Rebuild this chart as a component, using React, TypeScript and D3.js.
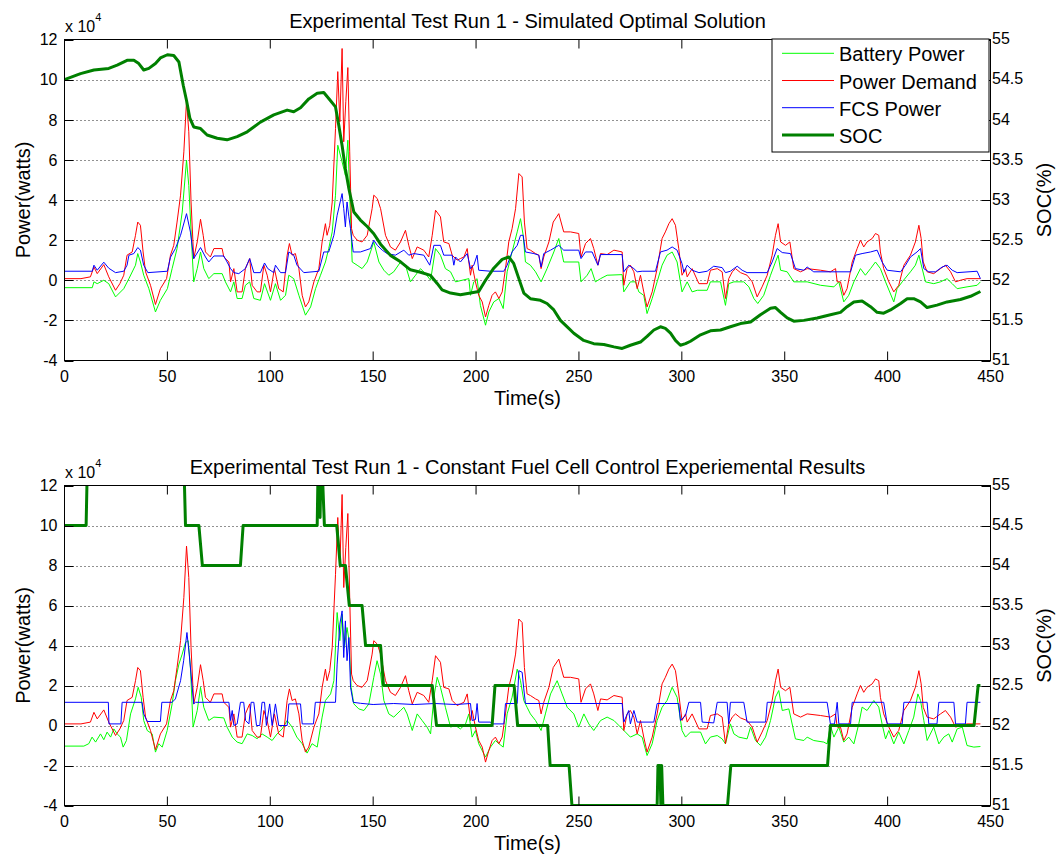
import React from 'react';
import * as d3 from 'd3';

type Pt = [number, number];

// Time in seconds, power in units of 10^4 W, state of charge in percent.
const powerDemand: Pt[] = [
  [0, 0.08], [8, 0.08], [12.6, 0.17], [14.3, 0.66], [15.9, 0.33], [19.1, 0.78], [21.5, 0.17], [24.8, -0.5],
  [26.9, -0.17], [28.8, 0.25], [30.4, 1.25], [32.9, 1.41], [34.5, 2.24], [35.6, 2.9], [36.9, 2.74], [38.2, 1.41],
  [39.4, 0.42], [41.8, -0.25], [44.2, -1.21], [46.6, -0.42], [49.6, 0.08], [51.5, 1.25], [53.1, 1.74], [54.7, 2.9],
  [56.4, 4.24], [58, 6.4], [59.3, 8.97], [60.4, 7.4], [61.5, 3.9], [62.8, 1.08], [64.5, 1.91], [66.1, 3.04],
  [67.4, 2.24], [68.5, 1.41], [70.9, 1.16], [72.6, 1.58], [76.6, 1.58], [77.4, 1.16], [79.9, 0.91], [80.7, -0.08],
  [82.3, 0.58], [83.9, -0.58], [86.3, -0.58], [87.9, 0.58], [90, 1.08], [91.2, -0.25], [93.6, -0.58], [95.2, -0.58],
  [96.9, 0.75], [98.5, 0.25], [100.1, -0.58], [102, 0.58], [104.1, -0.42], [106.3, -0.58], [108.2, 1.25], [109.3, 1.83],
  [110.6, 1.25], [112.2, 1.33], [113.9, 0.58], [115.5, -0.75], [117.1, -1.33], [118.7, -1.08], [121.2, -0.08], [123.6, 0.58],
  [125.2, 1.91], [126.8, 2.82], [127.6, 2.24], [128.9, 2.74], [130.1, 3.9], [131.7, 7.56], [132.8, 10.4], [133.8, 7.9],
  [134.9, 11.55], [135.7, 6.9], [136.7, 8.9], [137.7, 10.6], [138.6, 6.4], [139.5, 2.57], [140.3, 2.24], [142.2, 2.0],
  [144.6, 1.91], [147.1, 2.24], [149.5, 3.57], [150.3, 4.24], [152, 4.07], [153.6, 3.57], [156, 2.24], [158.4, 1.66],
  [160.8, 1.5], [163.3, 1.91], [165.7, 2.49], [167.3, 1.74], [169, 1.08], [171.4, 1.66], [174.6, 1.5], [177, 1.16],
  [178.7, 2.24], [180.3, 3.49], [182.7, 3.16], [184.3, 1.91], [186.8, 1.83], [188.4, 1.25], [190.8, 1.0], [192.4, 1.08],
  [194.1, 1.16], [195.7, 1.58], [197.3, 0.25], [198.1, 0.75], [199.7, -0.08], [201.3, -0.75], [203, -1.08], [204.6, -1.83],
  [206.2, -1.25], [207.8, -0.75], [209.4, -0.58], [211.1, -0.91], [212.7, -0.58], [214.3, 0.58], [215.9, 1.91], [217.5, 2.57],
  [219.2, 3.57], [220.8, 5.32], [222.4, 5.15], [223.5, 2.9], [224.8, 1.58], [226.4, 1.5], [228.9, 1.33], [230.5, 1.25],
  [231.6, 0.58], [232.9, 1.16], [235.4, 1.91], [237.5, 2.9], [240.2, 3.32], [242.6, 2.41], [245.9, 2.41], [249.9, 2.33],
  [251, 1.16], [253.2, 1.83], [255.6, 2.08], [257.2, 1.58], [259.2, 0.75], [260.5, 1.33], [263.7, 1.28], [267, 1.5],
  [271, 1.41], [271.8, -0.25], [273.4, 0.58], [275, 0.75], [276.7, 0.42], [278.3, -0.42], [279.9, 0.25], [281.5, -0.58],
  [283.1, -1.33], [285.6, -0.58], [288, 0.58], [290.4, 2.08], [292, 2.41], [293.7, 2.82], [295.3, 3.07], [296.9, 2.74],
  [298.5, 1.58], [300.1, 0.25], [301.8, 0.58], [302.6, 0.17], [305, 0.58], [308.3, -0.17], [312.3, -0.17], [313.9, 0.5],
  [317.2, 0.58], [319.6, 0.42], [321.2, -0.91], [322.8, 0.08], [324.5, 0.42], [326.1, 0.58], [328.5, 0.38], [331.7, 0.25],
  [334.2, -0.08], [336.6, -0.83], [339, -0.33], [341.5, 0.25], [343.9, 1.25], [345.5, 2.24], [346.8, 2.82], [348, 1.91],
  [350.4, 1.74], [352.5, 1.91], [354.4, 0.58], [357.7, 0.42], [360.9, 0.58], [367.4, 0.5], [372.2, 0.42], [374.7, 0.58],
  [375.5, -0.08], [377.1, -0.08], [378.7, -0.75], [380.3, -0.42], [382.8, 0.91], [385.2, 1.58], [386.8, 2.0], [388.4, 1.66],
  [390, 1.91], [392.5, 2.08], [394.1, 2.33], [395.7, 2.24], [396.5, 1.41], [398.1, 0.58], [400.6, -0.08], [403, -0.58],
  [405.4, -0.25], [407.9, 0.75], [411.1, 1.25], [413.5, 1.91], [415.2, 2.74], [416.3, 2.08], [417.3, 0.91], [419.2, 0.42],
  [422.4, 0.33], [425.7, 0.58], [428.1, 0.75], [430.6, 0.42], [433, -0.08], [435.4, 0], [438.6, 0.08], [445.1, 0.08],
];

const fcsPowerOptimal: Pt[] = [
  [0, 0.45], [13.5, 0.45], [14.3, 0.75], [15.9, 0.5], [19.1, 0.9], [21.5, 0.6], [24.8, 0.38], [28.8, 0.45],
  [30.4, 0.75], [31.3, 1.25], [33.7, 1.33], [35.6, 1.63], [36.9, 1.5], [38.5, 0.75], [40.5, 0.38], [50, 0.45],
  [51.5, 1.15], [53.9, 1.58], [56.4, 2.24], [59.3, 3.32], [61.2, 2.4], [62.8, 1.08], [66.1, 1.63], [68.5, 1.16],
  [70.1, 0.91], [72.6, 1.21], [77.4, 1.21], [79, 0.91], [80.7, 0.58], [82.3, 0.38], [84.7, 0.33], [87.9, 0.58],
  [90, 1.08], [92, 0.38], [95.2, 0.38], [97.2, 0.86], [98.8, 0.58], [101.7, 0.38], [102.5, 0.75], [105, 0.38],
  [107.4, 0.38], [109, 1.41], [111.4, 1.25], [113, 0.75], [116.3, 0.38], [123.6, 0.45], [126, 1.41], [128.4, 1.41],
  [130.9, 2.24], [132.5, 3.24], [134.9, 4.32], [135.7, 3.57], [136.5, 2.66], [137.3, 3.9], [138.2, 3.16], [139, 2.57],
  [140.3, 1.41], [143.8, 1.41], [148.7, 1.58], [150.3, 2.0], [152, 1.74], [154.4, 1.5], [156.8, 1.33], [160.8, 1.25],
  [164.9, 1.5], [167.3, 1.25], [169.8, 1.33], [174.6, 1.25], [177.5, 0.75], [179.5, 1.74], [182.7, 1.74], [184.3, 1.25],
  [188.4, 1.25], [189.2, 0.75], [190, 1.16], [192.4, 0.91], [195.7, 1.33], [197.3, 0.58], [198.9, 0.75], [200.5, 1.25],
  [201.3, 0.5], [207, 0.45], [213.5, 0.45], [215.1, 0.75], [217.5, 1.41], [220, 1.74], [221.6, 2.24], [222.9, 2.24],
  [224, 1.41], [228.1, 1.33], [230.5, 1.25], [231.6, 0.66], [232.9, 1.33], [236.2, 1.5], [240.2, 1.74], [242.6, 1.5],
  [249.9, 1.5], [251, 1.08], [253.2, 1.41], [256.4, 1.41], [259.2, 0.75], [260.5, 1.28], [271, 1.28], [271.8, 0.42],
  [274.2, 0.75], [276.7, 0.58], [278.3, 0.42], [280.7, 0.45], [287.2, 0.45], [289.6, 1.41], [292.8, 1.5], [295.3, 1.66],
  [297.7, 1.5], [300.1, 0.83], [301, 0.4], [302.6, 0.75], [305, 0.5], [308.3, 0.38], [312.3, 0.45], [315.5, 0.7],
  [319.6, 0.63], [321.2, 0.38], [323.6, 0.45], [326.9, 0.7], [329.3, 0.5], [331.7, 0.38], [341.5, 0.38], [343.9, 0.91],
  [346.3, 1.58], [348.8, 1.38], [352.8, 1.33], [355.2, 0.58], [359.3, 0.5], [360.9, 0.66], [364.1, 0.42], [382, 0.42],
  [384.4, 1.25], [387.6, 1.33], [391.7, 1.41], [394.9, 1.5], [397.3, 0.91], [399.8, 0.5], [406.3, 0.42], [408.7, 0.75],
  [411.1, 1.16], [414.3, 1.41], [416, 1.58], [417.6, 0.58], [420, 0.42], [423.3, 0.42], [426.5, 0.66], [428.9, 0.75],
  [431.4, 0.5], [433.8, 0.38], [443.5, 0.45], [445.1, 0.08],
];

const batteryPowerOptimal: Pt[] = [
  [0, -0.37], [13.5, -0.37], [14.3, -0.08], [15.9, -0.17], [19.1, 0], [21.5, -0.17], [24.8, -0.83], [28.8, -0.42],
  [31.3, 0.08], [34.5, 0.75], [35.6, 1.33], [36.9, 0.91], [38.5, 0.25], [41, -0.42], [44.2, -1.58], [46.6, -1.0],
  [50, -0.42], [52.3, 0.58], [54.7, 1.58], [57.2, 3.4], [59.3, 5.98], [60.4, 4.73], [62, 1.41], [62.8, -0.08],
  [64.5, 0.58], [66.1, 1.41], [67.7, 0.58], [70.1, 0.08], [72.6, 0.33], [76.6, 0.33], [78.2, -0.08], [80.7, -0.58],
  [82.3, -0.08], [83.9, -0.91], [86.3, -0.91], [87.9, -0.25], [90, -0.08], [92, -0.91], [95.2, -1.0], [97.2, -0.17],
  [100.1, -1.0], [102.5, -0.17], [105, -1.0], [107.4, -0.75], [109, 0.25], [111.4, 0.08], [113.9, -0.75], [117.1, -1.74],
  [119.6, -1.33], [122, -0.42], [124.4, 0.25], [126.8, 0.91], [128.4, 1.58], [130.1, 2.41], [131.7, 4.24], [132.8, 6.73],
  [134.9, 5.9], [136.5, 5.23], [137.7, 6.98], [138.6, 4.24], [139.8, 0.91], [142.2, 0.75], [144.6, 0.58], [147.1, 0.91],
  [148.7, 1.41], [150.3, 1.91], [152.8, 0.91], [155.2, 0.5], [157.6, 0.25], [160, 0.42], [163.3, 0.91], [165.7, 0.75],
  [168.1, -0.08], [170.6, 0.25], [173, 0.58], [175.4, 0.33], [177.9, 0], [180.3, 1.58], [182.7, 1.25], [185.1, 0.58],
  [187.6, 0.42], [190, -0.08], [193.2, 0], [196.5, 0.08], [197.3, -0.75], [198.9, -0.08], [200.5, 0.08], [202.1, -1.25],
  [204.6, -2.24], [206.2, -1.58], [208.6, -1.08], [211.1, -0.91], [213.2, -1.41], [215.1, 0.42], [217.5, 1.41], [220, 2.41],
  [221.6, 3.07], [222.9, 2.24], [224, 0.91], [226.4, 0.75], [228.9, 0.42], [231.6, -0.08], [234.5, 0.58], [237.8, 1.41],
  [240.2, 2.08], [242.6, 0.91], [249.9, 0.91], [251, -0.08], [254, 0.25], [255.9, 0.58], [258, -0.08], [260.5, 0.08],
  [263.7, 0.25], [271, 0.28], [271.8, -0.58], [275, -0.08], [277.5, -0.08], [279.1, -0.58], [281.5, -0.75], [283.1, -1.66],
  [285.6, -0.91], [288, -0.08], [290.4, 0.75], [292.8, 1.25], [295.3, 1.41], [297.7, 0.91], [300.1, -0.58], [302.6, -0.08],
  [305, -0.58], [307.5, -0.5], [312.3, -0.5], [313.9, -0.08], [318.8, -0.08], [321.2, -1.25], [322.8, -0.17], [325.3, -0.08],
  [330.1, -0.08], [332.6, -0.33], [335, -0.91], [336.9, -1.16], [339.8, -0.75], [343.1, 0.25], [345.5, 0.91], [346.8, 1.25],
  [348, 0.5], [351.2, 0.42], [354.4, -0.08], [360.9, -0.08], [367.4, -0.25], [373.9, -0.33], [376.3, -0.08], [378.7, -1.08],
  [381.1, -0.75], [383.6, -0.08], [386.8, 0.58], [389.2, 0.25], [391.7, 0.58], [394.1, 0.91], [396.5, 0.58], [399, -0.08],
  [403, -1.08], [404.6, -0.42], [407.1, -0.08], [411.1, 0.42], [413.5, 0.75], [415.2, 1.25], [416.8, 0.58], [418.4, -0.08],
  [422.4, -0.17], [425.7, -0.08], [428.9, 0.08], [431.4, -0.17], [433.8, -0.42], [438.6, -0.33], [443.5, -0.25], [445.1, -0.08],
];

const socOptimal: Pt[] = [
  [0, 54.5], [7.8, 54.575], [14.3, 54.62], [21.5, 54.64], [25.6, 54.68], [30.4, 54.74], [33.7, 54.74], [36.1, 54.7],
  [38.5, 54.62], [41, 54.64], [44.2, 54.7], [46.6, 54.77], [50, 54.81], [53.1, 54.8], [55.6, 54.72], [57.7, 54.43],
  [59.3, 54.24], [60.9, 54.02], [62.8, 53.91], [66.1, 53.89], [69.3, 53.81], [74.2, 53.77], [79, 53.75], [83.9, 53.79],
  [88.8, 53.85], [95.2, 53.97], [101.7, 54.06], [108.2, 54.12], [111.4, 54.1], [114.7, 54.15], [118.7, 54.26], [122.8, 54.33],
  [126, 54.34], [129.2, 54.24], [131.7, 54.16], [133.3, 53.93], [134.9, 53.68], [136.5, 53.39], [138.2, 53.14], [140.6, 52.85],
  [143.8, 52.75], [147.1, 52.67], [150.3, 52.58], [153.6, 52.45], [158.4, 52.31], [163.3, 52.23], [168.1, 52.13], [173, 52.1],
  [177.9, 52.06], [181.1, 51.96], [183.5, 51.88], [187.6, 51.84], [192.4, 51.82], [197.3, 51.84], [201.3, 51.86], [204.6, 52.0],
  [208.6, 52.15], [212.7, 52.26], [215.9, 52.29], [218.3, 52.21], [220.8, 52.02], [223.2, 51.84], [226.4, 51.77], [231.3, 51.75],
  [234.5, 51.71], [237.8, 51.63], [241, 51.5], [244.3, 51.42], [247.5, 51.34], [252.3, 51.25], [257.2, 51.21], [262.1, 51.2],
  [267, 51.17], [271, 51.15], [275, 51.19], [279.9, 51.23], [283.1, 51.3], [286.4, 51.38], [289.6, 51.42], [292, 51.4],
  [294.5, 51.34], [296.9, 51.25], [299.3, 51.19], [301.8, 51.21], [304.2, 51.24], [309.1, 51.32], [313.9, 51.37], [318.8, 51.38],
  [323.6, 51.42], [328.5, 51.46], [333.4, 51.48], [338.2, 51.57], [343.1, 51.65], [345.5, 51.66], [348, 51.6], [351.2, 51.53],
  [354.4, 51.49], [359.3, 51.5], [365.8, 51.53], [372.2, 51.57], [377.1, 51.6], [380.3, 51.67], [383.6, 51.73], [387.6, 51.74],
  [391.7, 51.67], [394.9, 51.6], [398.1, 51.59], [401.4, 51.63], [406.3, 51.71], [409.5, 51.77], [412.7, 51.77], [416, 51.73],
  [419.2, 51.66], [424, 51.69], [428.9, 51.73], [435.4, 51.76], [440.3, 51.8], [445.1, 51.86],
];

const fcsPowerConstant: Pt[] = [
  [0, 1.16], [21.3, 1.16], [21.6, 0.08], [27.4, 0.08], [28, 1.16], [37.7, 1.16], [38.5, 0.58], [40.2, 0.2],
  [46.6, 0.2], [47.3, 1.16], [52.3, 1.16], [53.9, 1.33], [56.4, 2.24], [57.9, 3.24], [59.5, 4.65], [60.6, 3.57],
  [61.9, 2.08], [62.8, 1.08], [63.6, 1.16], [79.9, 1.16], [80.7, 0.25], [81.5, 0.75], [82.3, 0], [83.9, 0.08],
  [85.5, 1.16], [87.1, 1.16], [88, 0.25], [89.6, 0.08], [90.7, 1.16], [92, 1.16], [93.3, 0], [94.9, 0],
  [96, 1.16], [97.2, 1.16], [98.1, 0], [99.7, 1.08], [100.9, 0], [102.5, 1.08], [104.1, 0], [108.2, 0],
  [109, 1.08], [114.7, 1.08], [115.5, 0.08], [121, 0.08], [121.9, 1.16], [131.7, 1.16], [132.5, 3.07], [133.8, 5.07],
  [134.9, 5.73], [135.7, 3.4], [136.5, 5.23], [137.3, 3.24], [138.2, 4.4], [139, 1.91], [140.3, 1.16], [143.8, 1.11],
  [150, 1.05], [160, 1.1], [170, 1.05], [180, 1.1], [190, 1.05], [197.3, 1.1], [198.1, 0.25], [199.7, 0.3],
  [200.5, 1.1], [201.3, 0.17], [207, 0.17], [207.8, 0.08], [213.5, 0.08], [214.3, 1.1], [220, 1.1], [220.8, 2.74],
  [222.4, 2.66], [223.2, 1.83], [224, 1.1], [271, 1.1], [271.8, 0.17], [274.2, 0.75], [275, 0.08], [276.7, 0.75],
  [278.3, 0.17], [286.4, 0.17], [288, 1.1], [298.5, 1.1], [299.3, 0.25], [301.8, 0.5], [303.4, 1.16], [309.1, 1.16],
  [309.9, 0.17], [315.5, 0.13], [317.2, 1.16], [322, 1.16], [322.8, 0.08], [323.6, 1.16], [330.1, 1.16], [331.7, 0.17],
  [340.7, 0.17], [341.5, 1.16], [370.6, 1.16], [372.2, 0.08], [374.2, 0.08], [375.5, 1.16], [376.3, 0.08], [382, 0.08],
  [382.8, 1.16], [398.1, 1.16], [399.8, 0.08], [407.1, 0.08], [407.9, 1.16], [419.2, 1.16], [420, 0.08], [424, 0.08],
  [424.9, 1.16], [432.2, 1.16], [433, 0.08], [437.8, 0.08], [438.6, 1.16], [445.1, 1.16],
];

const batteryPowerConstant: Pt[] = [
  [0, -1.03], [9.4, -1.03], [11.8, -0.91], [13.4, -0.58], [15.1, -0.83], [17.5, -0.42], [19.1, -0.71], [20.7, -0.33],
  [22.4, -0.58], [24, -0.17], [25.6, -0.42], [27.2, -0.58], [28.5, -1.08], [30.1, -0.75], [32.1, 0.58], [34.5, 1.33],
  [35.8, 1.91], [37.3, 1.41], [38.5, 0.25], [40.2, -0.25], [42.6, -0.42], [44.2, -1.33], [45.8, -0.91], [47.5, -1.08],
  [49.9, -0.25], [52.3, 1.08], [53.9, 2.24], [55.6, 3.07], [57.2, 3.57], [58.8, 4.15], [60.1, 4.24], [61.2, 2.9],
  [62.5, -0.08], [64.5, 0.75], [66.1, 1.91], [67.7, 0.91], [70.1, 0.25], [72.6, 0.42], [77.4, 0.38], [79, -0.08],
  [81.5, -0.58], [83.9, -0.83], [86.3, -0.91], [88.8, -0.42], [91.2, -0.5], [93.6, -0.66], [96, -0.42], [98.5, -0.58],
  [100.9, -0.75], [103.3, -0.42], [105.8, -0.17], [108.2, 0.25], [110.6, -0.08], [112.9, -0.58], [115.5, -0.91], [117.9, -1.38],
  [120.3, -0.91], [122.8, -1.08], [125.2, 0.42], [126.8, 1.25], [129.3, 1.58], [130.9, 2.24], [132.5, 5.65], [133.8, 4.24],
  [134.9, 5.56], [136, 3.9], [137.3, 4.9], [138.3, 4.24], [139.3, 1.91], [140.6, 1.08], [143, 0.83], [145.5, 0.75],
  [147.9, 1.08], [150.3, 2.41], [151.9, 3.24], [153.6, 2.57], [155.2, 1.25], [157.6, 0.58], [160, 0.42], [163.3, 0.75],
  [164.9, 0.91], [166.5, 0.58], [169, -0.25], [171.4, 0.58], [173.8, 0.25], [176.2, -0.08], [177.9, -0.42], [179.5, 1.41],
  [181.1, 2.41], [182.7, 1.91], [185.1, 0.91], [187.6, -0.08], [190, 0], [192.4, -0.17], [194.9, 0.08], [196.5, 0.58],
  [198.1, -0.58], [199.7, -0.25], [201.3, -0.91], [204.6, -1.58], [207, -1.08], [209.4, -0.75], [211.1, -0.91], [213.2, -1.08],
  [215.1, 0.58], [217.5, 1.41], [220, 2.82], [221.6, 2.24], [223.2, 1.25], [224.8, 0.91], [226.4, 0.58], [228.9, 0.25],
  [231.6, -0.25], [233.7, 0.58], [236.2, 1.58], [239.4, 2.24], [241.8, 1.58], [244.3, 0.91], [247.5, 0.58], [249.9, -0.08],
  [252.4, 0.58], [254.8, 0.08], [257.2, -0.25], [260.5, 0.25], [263.7, 0.42], [267, 0.25], [270.2, -0.08], [272.6, -0.33],
  [275, -0.58], [278.3, -0.42], [280.7, -0.58], [283.1, -1.5], [285.6, -0.91], [288, 0.25], [290.4, 0.91], [292.8, 1.25],
  [295.3, 1.91], [297.7, 1.41], [300.1, -0.25], [301.8, -0.58], [304.2, -0.33], [309.1, -0.33], [311.5, -0.92], [313.9, -0.58],
  [317.2, -0.5], [319.6, -0.67], [321.2, -0.92], [323.6, 0.08], [325.3, -0.42], [327.7, -0.58], [331.7, -0.67], [333.4, -0.08],
  [335.8, -0.75], [338.2, -1.0], [340.7, -0.58], [343.1, 0.25], [345.5, 1.42], [347.1, 1.75], [348.8, 0.75], [352, 0.83],
  [355.2, -0.67], [359.3, -0.75], [360.9, -0.58], [364.1, -0.75], [369, -0.83], [370.6, -0.92], [372.2, 0], [373.9, -0.58],
  [376.3, -0.08], [378.7, -0.83], [381.1, -0.58], [383.6, -0.92], [386, 0.08], [387.6, 0.92], [390, 0.75], [393.3, 1.25],
  [395.7, 0.92], [397.3, 0.08], [399, -0.67], [400.6, -0.25], [403, -0.92], [405.4, -0.33], [407.9, -0.92], [410.3, -0.25],
  [412.7, 0.42], [414.7, 1.58], [416, 1.25], [417.6, 0.25], [419.2, -0.75], [422.4, -0.08], [424.9, -0.92], [427.3, -0.58],
  [429.7, -0.42], [431.4, -0.83], [433.8, -0.17], [436.3, -0.08], [438.6, -1.0], [441.9, -1.08], [445.1, -1.05],
];

const socConstant: Pt[] = [
  [0, 54.5], [10.5, 54.5], [11.3, 55.5], [57.8, 55.5], [58.8, 54.5], [65.3, 54.5], [67, 54], [85.5, 54],
  [86.8, 54.5], [122.8, 54.5], [123.4, 55.5], [124.2, 54.6], [124.8, 55.5], [126.3, 54.5], [132.3, 54.5], [134, 54],
  [136.5, 54], [138.4, 53.5], [144.6, 53.5], [146.3, 53], [153.6, 53], [155, 52.5], [178.7, 52.5], [180.8, 52],
  [207.8, 52], [209.2, 52.5], [218.5, 52.5], [220.2, 52], [234.8, 52], [236, 51.5], [245.2, 51.5], [246.6, 51],
  [288, 51], [288.4, 51.5], [289.4, 51.5], [289.8, 51], [290.2, 51.5], [290.8, 51], [322.2, 51], [323.8, 51.5],
  [370.8, 51.5], [372.2, 52], [442, 52], [444, 52.5], [445.1, 52.5],
];

const timeDomain: [number, number] = [0, 450];
const powerDomain: [number, number] = [-4, 12];
const socDomain: [number, number] = [51, 55];
const legendLabels = ['Battery Power', 'Power Demand', 'FCS Power', 'SOC'];
const seriesColors = ['#00ff00', '#ff0000', '#0000ff', '#008000'];

const FONT = "'Liberation Sans', Arial, Helvetica, sans-serif";
const LEFT = 64.5;
const RIGHT = 990.5;
const TICK = 9;

interface PanelProps {
  id: string;
  top: number;
  bottom: number;
  title: string;
  battery: Pt[];
  demand: Pt[];
  fcs: Pt[];
  soc: Pt[];
  legend?: boolean;
}

function Panel({ id, top, bottom, title, battery, demand, fcs, soc, legend }: PanelProps) {
  const x = d3.scaleLinear().domain(timeDomain).range([LEFT, RIGHT]);
  const y = d3.scaleLinear().domain(powerDomain).range([bottom, top]);
  const y2 = d3.scaleLinear().domain(socDomain).range([bottom, top]);
  const powerLine = d3.line<Pt>().x((d) => x(d[0])).y((d) => y(d[1]));
  const socLine = d3.line<Pt>().x((d) => x(d[0])).y((d) => y2(d[1]));
  const xTicks = x.ticks(10);
  const yTicks = y.ticks(8);
  const y2Ticks = y2.ticks(8);
  const midX = (LEFT + RIGHT) / 2;
  const midY = (top + bottom) / 2;
  const clipId = `clip-${id}`;

  const legendX = 772;
  const legendY = top - 0.5;
  const legendRow = 27.2;

  return (
    <g>
      <defs>
        <clipPath id={clipId}>
          <rect x={LEFT} y={top} width={RIGHT - LEFT} height={bottom - top} />
        </clipPath>
      </defs>
      <text x={midX} y={top - 12} textAnchor="middle" fontSize={20} fontFamily={FONT} fill="#000">
        {title}
      </text>
      {/* dotted horizontal grid */}
      {yTicks
        .filter((v) => v > powerDomain[0] && v < powerDomain[1])
        .map((v) => (
          <line key={`g${v}`} x1={LEFT} x2={RIGHT} y1={Math.round(y(v)) + 0.5} y2={Math.round(y(v)) + 0.5}
            stroke="#222" strokeWidth={1} strokeDasharray="1 3" />
        ))}
      <g clipPath={`url(#${clipId})`} fill="none">
        <path d={powerLine(battery) || ''} stroke={seriesColors[0]} strokeWidth={1} />
        <path d={powerLine(demand) || ''} stroke={seriesColors[1]} strokeWidth={1} />
        <path d={powerLine(fcs) || ''} stroke={seriesColors[2]} strokeWidth={1} />
        <path d={socLine(soc) || ''} stroke={seriesColors[3]} strokeWidth={3} strokeLinejoin="round" />
      </g>
      {/* axes box */}
      <rect x={LEFT} y={top} width={RIGHT - LEFT} height={bottom - top} fill="none" stroke="#000" strokeWidth={1} />
      {xTicks.map((v) => (
        <g key={`x${v}`}>
          <line x1={x(v)} x2={x(v)} y1={bottom} y2={bottom - TICK} stroke="#000" />
          <line x1={x(v)} x2={x(v)} y1={top} y2={top + TICK} stroke="#000" />
          <text x={x(v)} y={bottom + 21.5} textAnchor="middle" fontSize={16} fontFamily={FONT} fill="#000">
            {v}
          </text>
        </g>
      ))}
      {yTicks.map((v) => (
        <g key={`y${v}`}>
          <line x1={LEFT} x2={LEFT + TICK} y1={Math.round(y(v)) + 0.5} y2={Math.round(y(v)) + 0.5} stroke="#000" />
          <text x={57.5} y={y(v)} dy="0.36em" textAnchor="end" fontSize={16} fontFamily={FONT} fill="#000">
            {v}
          </text>
        </g>
      ))}
      {y2Ticks.map((v) => (
        <g key={`s${v}`}>
          <line x1={RIGHT} x2={RIGHT - TICK} y1={Math.round(y2(v)) + 0.5} y2={Math.round(y2(v)) + 0.5} stroke="#000" />
          <text x={992} y={y2(v)} dy="0.3em" textAnchor="start" fontSize={16} fontFamily={FONT} fill="#000">
            {v}
          </text>
        </g>
      ))}
      <text x={65} y={top - 8} fontSize={16} fontFamily={FONT} fill="#000">
        x 10
        <tspan fontSize={11} dy={-11}>4</tspan>
      </text>
      <text x={midX} y={bottom + 44.5} textAnchor="middle" fontSize={20} fontFamily={FONT} fill="#000">
        Time(s)
      </text>
      <text transform={`translate(29.5,${midY}) rotate(-90)`} textAnchor="middle" fontSize={20} fontFamily={FONT} fill="#000">
        Power(watts)
      </text>
      <text transform={`translate(1051,${midY}) rotate(-90)`} textAnchor="middle" fontSize={20} fontFamily={FONT} fill="#000">
        SOC(%)
      </text>
      {legend && (
        <g>
          <rect x={legendX} y={legendY} width={217} height={113} fill="#fff" stroke="#000" strokeWidth={1} />
          {legendLabels.map((label, i) => {
            const ly = legendY + 14.3 + i * legendRow;
            return (
              <g key={label}>
                <line x1={782} x2={834} y1={ly} y2={ly} stroke={seriesColors[i]} strokeWidth={i === 3 ? 3 : 1} />
                <text x={839} y={ly + 8} fontSize={20} fontFamily={FONT} fill="#000">
                  {label}
                </text>
              </g>
            );
          })}
        </g>
      )}
    </g>
  );
}

export default function App() {
  return (
    <svg width={1062} height={863} viewBox="0 0 1062 863"
      style={{ position: 'absolute', left: 0, top: 0, background: '#fff' }}>
      <rect width={1062} height={863} fill="#fff" />
      <Panel id="opt" top={39.5} bottom={360.5} title="Experimental Test Run 1 - Simulated Optimal Solution"
        battery={batteryPowerOptimal} demand={powerDemand} fcs={fcsPowerOptimal} soc={socOptimal} legend />
      <Panel id="const" top={485.5} bottom={805.5}
        title="Experimental Test Run 1 - Constant Fuel Cell Control Experiemental Results"
        battery={batteryPowerConstant} demand={powerDemand} fcs={fcsPowerConstant} soc={socConstant} />
    </svg>
  );
}
